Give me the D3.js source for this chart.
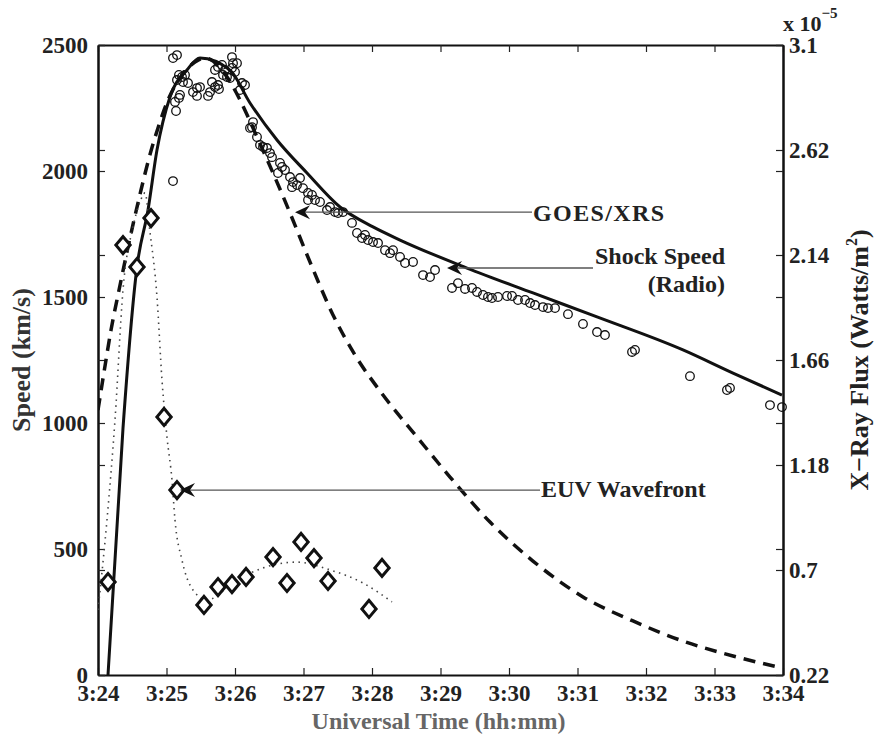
<!DOCTYPE html>
<html>
<head>
<meta charset="utf-8">
<script src="https://cdn.jsdelivr.net/npm/d3@7"></script>
<style>
  body { margin: 0; background: #fff; }
  svg text { font-family: "Liberation Serif", "Times New Roman", serif; font-weight: bold; }
</style>
</head>
<body>
<svg id="chart" width="876" height="738"></svg>
<script>
// minutes after 3:24 UT
var timeLabels = ["3:24", "3:25", "3:26", "3:27", "3:28", "3:29", "3:30", "3:31", "3:32", "3:33", "3:34"];
var speedTicks = [0, 500, 1000, 1500, 2000, 2500];
var fluxTicks = [0.22, 0.7, 1.18, 1.66, 2.14, 2.62, 3.1];
var fluxLabels = ["0.22", "0.7", "1.18", "1.66", "2.14", "2.62", "3.1"];

// radio shock speed points (km/s)
var radioT = [1.095,1.095,1.153,1.182,1.226,1.270,1.153,1.241,1.314,1.197,
  1.124,1.182,1.139,1.387,1.445,1.489,1.445,1.606,1.635,1.664,
  1.708,1.752,1.766,1.708,1.752,1.810,1.854,1.825,1.883,1.927,
  1.956,1.971,1.956,2.029,2.000,2.102,2.146,2.073,2.263,2.248,
  2.219,2.321,2.365,2.409,2.467,2.511,2.540,2.657,2.686,2.730,
  2.628,2.803,2.847,2.905,2.949,2.832,2.993,3.066,3.124,3.168,
  3.066,3.241,3.343,3.387,3.460,3.504,3.577,3.708,3.781,3.854,
  3.898,3.942,4.015,4.088,4.190,4.263,4.307,4.409,4.482,4.599,
  4.745,4.847,4.920,5.168,5.255,5.358,5.460,5.533,5.620,5.693,
  5.752,5.839,5.971,6.044,6.131,6.234,6.307,6.380,6.496,6.569,
  6.672,6.861,7.080,7.285,7.401,7.796,7.839,8.642,9.182,9.226,
  9.810,9.985];
var radioS = [1960,2448,2460,2381,2373,2381,2361,2353,2349,2302,
  2274,2290,2238,2313,2329,2333,2298,2298,2313,2353,
  2333,2341,2325,2401,2413,2421,2401,2381,2373,2369,
  2409,2428,2452,2428,2393,2349,2341,2321,2194,2174,
  2171,2135,2103,2095,2091,2071,2055,2032,2016,2004,
  1992,1976,1956,1944,1972,1936,1932,1913,1905,1885,
  1885,1877,1845,1857,1837,1833,1837,1794,1754,1734,
  1746,1726,1718,1714,1686,1674,1686,1659,1635,1639,
  1587,1579,1607,1536,1555,1532,1536,1520,1508,1500,
  1496,1500,1504,1504,1488,1488,1476,1468,1460,1456,
  1456,1432,1393,1361,1349,1282,1290,1186,1131,1139,
  1071,1063];

// fitted shock speed curve
var shockT = [0.146,0.365,0.569,0.730,0.861,1.051,1.299,1.489,1.927,2.219,2.613,3.051,3.533,4.015,4.409,5.387,6.350,7.285,8.540,9.270,9.985];
var shockS = [0,980,1619,1845,2083,2294,2401,2448,2400,2270,2123,1992,1857,1778,1726,1615,1516,1421,1290,1198,1111];

// GOES/XRS flux (x 10^-5 W/m^2)
var goesT = [0,0.088,0.190,0.307,0.423,0.526,0.628,0.745,0.876,1.022,1.197,1.416,1.562,1.854,2.073,2.307,2.555,2.803,3.095,3.431,3.752,4.161,4.657,5.139,5.723,6.350,7.080,7.810,8.540,9.270,9.985];
var goesF = [1.431,1.605,1.797,1.980,2.154,2.300,2.437,2.583,2.721,2.849,2.949,3.022,3.041,2.967,2.849,2.689,2.515,2.332,2.108,1.866,1.683,1.500,1.308,1.125,0.919,0.741,0.577,0.467,0.375,0.307,0.252];

// EUV wavefront speeds and fit
var euvT = [0.146,0.365,0.569,0.774,0.964,1.153,1.547,1.752,1.956,2.161,2.555,2.759,2.964,3.153,3.358,3.956,4.146];
var euvS = [369,1706,1619,1813,1024,734,278,349,361,389,468,365,528,464,373,262,425];
var euvFitT = [0,0.131,0.248,0.365,0.511,0.613,0.686,0.759,0.861,0.934,1.007,1.080,1.124,1.226,1.387,1.591,2.029,2.409,2.905,3.387,3.869,4.292];
var euvFitS = [258,615,1012,1528,1778,1877,1913,1758,1500,1171,944,774,615,456,337,298,377,425,448,417,365,290];

var svg = d3.select("#chart");
var pL = 98, pR = 783, pT = 45, pB = 675;

var x = d3.scaleLinear().domain([0, 10]).range([pL, pR]);
var yL = d3.scaleLinear().domain([0, 2500]).range([pB, pT]);
var yR = d3.scaleLinear().domain([0.22, 3.1]).range([pB, pT]);

svg.append("clipPath").attr("id", "plotclip")
    .append("rect")
    .attr("x", pL).attr("y", pT)
    .attr("width", pR - pL).attr("height", pB - pT);

function styleAxis(g) {
    g.select(".domain").attr("stroke", "#111").attr("stroke-width", 2);
    g.selectAll(".tick line").attr("stroke", "#222").attr("stroke-width", 1.2);
    g.selectAll("text").attr("font-size", "23px").attr("fill", "#222")
        .attr("font-family", "Liberation Serif").attr("font-weight", "bold");
}

// bottom & top
svg.append("g").attr("transform", "translate(0," + pB + ")")
    .call(d3.axisBottom(x).tickValues(d3.range(0, 11)).tickFormat(function(d, i) { return timeLabels[i]; })
        .tickSizeInner(-7).tickSizeOuter(0).tickPadding(10))
    .call(styleAxis);
svg.append("g").attr("transform", "translate(0," + pT + ")")
    .call(d3.axisTop(x).tickValues(d3.range(0, 11)).tickFormat("").tickSizeInner(-7).tickSizeOuter(0))
    .call(styleAxis);

// left: speed + mirrored flux ticks
svg.append("g").attr("transform", "translate(" + pL + ",0)")
    .call(d3.axisLeft(yL).tickValues(speedTicks).tickFormat(d3.format("d"))
        .tickSizeInner(-7).tickSizeOuter(0).tickPadding(10))
    .call(styleAxis);
svg.append("g").attr("transform", "translate(" + pL + ",0)")
    .call(d3.axisLeft(yR).tickValues(fluxTicks).tickFormat("").tickSizeInner(-7).tickSizeOuter(0))
    .call(styleAxis);

// right: flux + mirrored speed ticks
svg.append("g").attr("transform", "translate(" + pR + ",0)")
    .call(d3.axisRight(yR).tickValues(fluxTicks).tickFormat(function(d, i) { return fluxLabels[i]; })
        .tickSizeInner(-7).tickSizeOuter(0).tickPadding(6))
    .call(styleAxis);
svg.append("g").attr("transform", "translate(" + pR + ",0)")
    .call(d3.axisRight(yL).tickValues(speedTicks).tickFormat("").tickSizeInner(-7).tickSizeOuter(0))
    .call(styleAxis);

// exponent
var ex = svg.append("text").attr("x", 783).attr("y", 31).attr("font-size", "22px").attr("fill", "#222");
ex.append("tspan").text("x 10");
ex.append("tspan").attr("font-size", "15px").attr("dy", -13).text("\u22125");

// axis titles
svg.append("text")
    .attr("transform", "translate(30," + ((pT + pB) / 2) + ") rotate(-90)")
    .attr("text-anchor", "middle").attr("font-size", "26px").attr("fill", "#333")
    .text("Speed (km/s)");

svg.append("text")
    .attr("x", (pL + pR) / 2 - 2).attr("y", 729)
    .attr("text-anchor", "middle").attr("font-size", "24px").attr("fill", "#666")
    .text("Universal Time (hh:mm)");

var rt = svg.append("text")
    .attr("transform", "translate(868," + ((pT + pB) / 2) + ") rotate(-90)")
    .attr("text-anchor", "middle").attr("font-size", "26px").attr("fill", "#222");
rt.append("tspan").text("X\u2212Ray Flux (Watts/m");
rt.append("tspan").attr("font-size", "16px").attr("dy", -11).text("2");
rt.append("tspan").attr("dy", 11).text(")");

var plot = svg.append("g").attr("clip-path", "url(#plotclip)");

var goesLine = d3.line()
    .x(function(d) { return x(d[0]); })
    .y(function(d) { return yR(d[1]); })
    .curve(d3.curveMonotoneX);
var speedLine = d3.line()
    .x(function(d) { return x(d[0]); })
    .y(function(d) { return yL(d[1]); })
    .curve(d3.curveMonotoneX);

plot.append("path")
    .datum(d3.zip(goesT, goesF))
    .attr("d", goesLine)
    .attr("fill", "none").attr("stroke", "#111").attr("stroke-width", 3.5)
    .attr("stroke-dasharray", "12,8");

plot.append("path")
    .datum(d3.zip(shockT, shockS))
    .attr("d", speedLine)
    .attr("fill", "none").attr("stroke", "#111").attr("stroke-width", 3);

plot.append("path")
    .datum(d3.zip(euvFitT, euvFitS))
    .attr("d", speedLine)
    .attr("fill", "none").attr("stroke", "#444").attr("stroke-width", 1.6)
    .attr("stroke-dasharray", "1.5,4.5");

svg.selectAll("circle.radio")
    .data(d3.zip(radioT, radioS))
    .enter()
    .append("circle")
    .attr("class", "radio")
    .attr("cx", function(d) { return x(d[0]); })
    .attr("cy", function(d) { return yL(d[1]); })
    .attr("r", 4.3)
    .attr("fill", "none").attr("stroke", "#111").attr("stroke-width", 1.3);

var diamond = d3.symbol().type(d3.symbolSquare).size(120);
svg.selectAll("path.euv")
    .data(d3.zip(euvT, euvS))
    .enter()
    .append("path")
    .attr("class", "euv")
    .attr("d", diamond)
    .attr("transform", function(d) { return "translate(" + x(d[0]) + "," + yL(d[1]) + ") scale(0.92,1.1) rotate(45)"; })
    .attr("fill", "#fff").attr("stroke", "#111").attr("stroke-width", 3);

// annotation arrow: tip at (tx, ty), line runs right to x2
function arrow(tx, ty, x2) {
    svg.append("line")
        .attr("x1", tx + 8).attr("y1", ty).attr("x2", x2).attr("y2", ty)
        .attr("stroke", "#555").attr("stroke-width", 1.3);
    svg.append("path")
        .attr("d", "M0,0 L15,-7 L10,0 L15,7 Z")
        .attr("transform", "translate(" + tx + "," + ty + ")")
        .attr("fill", "#111");
}

arrow(x(2.876), yR(2.336), 532);
svg.append("text").attr("x", 533).attr("y", 221).attr("font-size", "24px").attr("letter-spacing", "1.4px")
    .attr("fill", "#222").text("GOES/XRS");

arrow(x(5.095), yL(1615), 593);
svg.append("text").attr("x", 725).attr("y", 264).attr("text-anchor", "end").attr("font-size", "24px").attr("fill", "#222").text("Shock Speed");
svg.append("text").attr("x", 725).attr("y", 292).attr("text-anchor", "end").attr("font-size", "24px").attr("fill", "#222").text("(Radio)");

arrow(x(1.197), yL(734), 540);
svg.append("text").attr("x", 541).attr("y", 497).attr("font-size", "24px").attr("fill", "#222").text("EUV Wavefront");
</script>
</body>
</html>
